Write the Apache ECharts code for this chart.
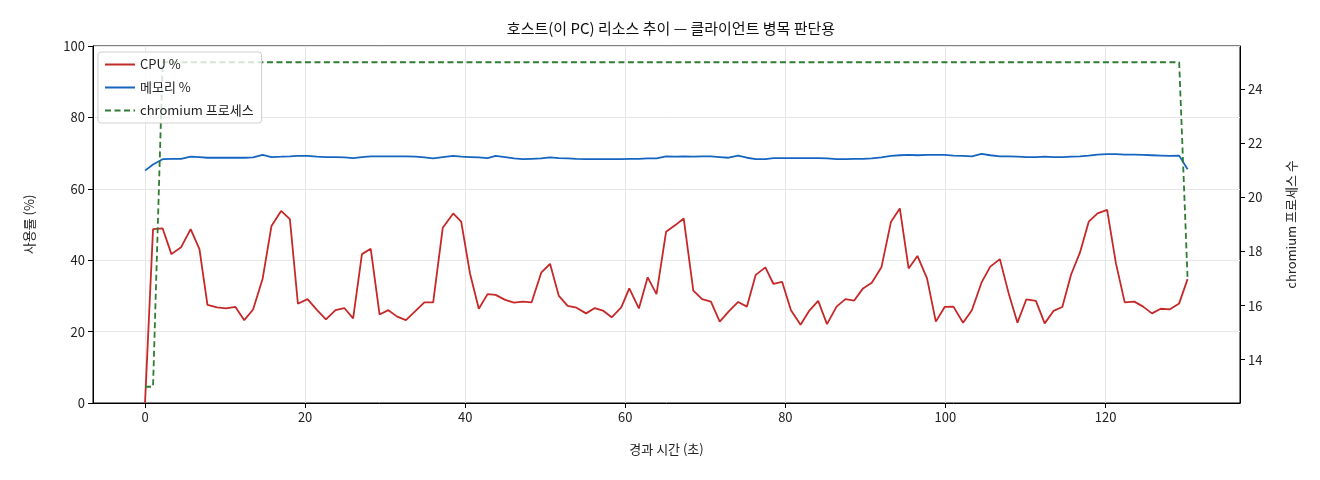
<!DOCTYPE html>
<html>
<head>
<meta charset="UTF-8">
<title>호스트 리소스 추이</title>
<script src="https://cdn.jsdelivr.net/npm/echarts@6/dist/echarts.min.js"></script>
<style>
	html, body { margin: 0; padding: 0; background: #fff; }
	#main { width: 1320px; height: 480px; }
</style>
</head>
<body>
<div id="main"></div>
<script>
// 경과 시간 (초)
var times = [0, 1.0, 2.2, 3.3, 4.5, 5.7, 6.8, 7.8, 9.0, 10.1, 11.3, 12.4, 13.5, 14.7, 15.8, 17.0, 18.1, 19.1, 20.3, 21.5,
	22.6, 23.8, 24.9, 26.0, 27.1, 28.2, 29.3, 30.4, 31.5, 32.6, 33.8, 34.9, 36.0, 37.2, 38.5, 39.5, 40.6, 41.7, 42.8, 43.8,
	45.0, 46.1, 47.2, 48.3, 49.5, 50.6, 51.7, 52.8, 53.9, 55.1, 56.2, 57.2, 58.3, 59.5, 60.5, 61.7, 62.8, 63.9, 65.1, 66.3,
	67.3, 68.5, 69.6, 70.7, 71.8, 72.9, 74.1, 75.2, 76.3, 77.5, 78.5, 79.6, 80.7, 81.9, 83.0, 84.1, 85.2, 86.4, 87.5, 88.6,
	89.7, 90.8, 92.0, 93.2, 94.3, 95.4, 96.5, 97.7, 98.8, 99.9, 101.0, 102.2, 103.3, 104.5, 105.6, 106.8, 107.9, 109.0, 110.1, 111.3,
	112.4, 113.5, 114.6, 115.7, 116.8, 117.9, 119.0, 120.2, 121.3, 122.4, 123.6, 124.7, 125.8, 126.9, 128.0, 129.2, 130.25];

var cpu = [0, 48.7, 48.9, 41.7, 43.6, 48.7, 43.1, 27.5, 26.8, 26.5, 26.9, 23.2, 26.2, 34.9, 49.6, 53.8, 51.5, 27.8, 29.1, 26.0,
	23.4, 26.0, 26.6, 23.7, 41.7, 43.2, 24.8, 26.0, 24.2, 23.2, 25.8, 28.2, 28.2, 49.1, 53.1, 50.8, 36.3, 26.4, 30.5, 30.3,
	28.9, 28.1, 28.4, 28.2, 36.5, 39.0, 30.0, 27.2, 26.7, 25.1, 26.6, 25.9, 24.0, 26.8, 32.1, 26.5, 35.2, 30.5, 48.0, 49.9,
	51.7, 31.5, 29.1, 28.4, 22.8, 25.6, 28.3, 27.0, 35.9, 38.0, 33.4, 33.9, 26.0, 21.9, 25.9, 28.6, 22.1, 27.0, 29.1, 28.7,
	32.1, 33.7, 38.0, 50.8, 54.5, 37.7, 41.2, 34.9, 22.8, 26.9, 27.0, 22.5, 26.0, 33.7, 38.2, 40.3, 30.7, 22.5, 29.0, 28.6,
	22.3, 25.8, 26.9, 36.0, 42.1, 50.8, 53.1, 54.1, 39.1, 28.2, 28.4, 27.0, 25.1, 26.4, 26.2, 27.9, 34.7];

var mem = [65.1, 66.8, 68.3, 68.4, 68.4, 69.0, 68.9, 68.7, 68.7, 68.7, 68.7, 68.7, 68.8, 69.5, 68.9, 69.0, 69.1, 69.2, 69.2, 69.0,
	68.9, 68.9, 68.8, 68.6, 68.9, 69.1, 69.1, 69.1, 69.1, 69.1, 69.0, 68.8, 68.5, 68.9, 69.2, 69.0, 68.9, 68.8, 68.6, 69.2,
	68.9, 68.5, 68.3, 68.4, 68.5, 68.8, 68.6, 68.5, 68.4, 68.3, 68.3, 68.3, 68.3, 68.3, 68.4, 68.4, 68.5, 68.5, 69.1, 69.0,
	69.1, 69.0, 69.1, 69.1, 68.9, 68.7, 69.3, 68.7, 68.3, 68.3, 68.6, 68.6, 68.6, 68.6, 68.6, 68.6, 68.5, 68.3, 68.3, 68.4,
	68.4, 68.5, 68.8, 69.2, 69.4, 69.5, 69.4, 69.5, 69.5, 69.5, 69.3, 69.2, 69.1, 69.8, 69.4, 69.1, 69.1, 69.0, 68.9, 68.9,
	69.0, 68.9, 68.9, 69.0, 69.1, 69.3, 69.6, 69.7, 69.7, 69.6, 69.6, 69.5, 69.4, 69.3, 69.2, 69.3, 65.5];

// chromium 프로세스 수
var procs = [13, 13, 25, 25, 25, 25, 25, 25, 25, 25, 25, 25, 25, 25, 25, 25, 25, 25, 25, 25,
	25, 25, 25, 25, 25, 25, 25, 25, 25, 25, 25, 25, 25, 25, 25, 25, 25, 25, 25, 25,
	25, 25, 25, 25, 25, 25, 25, 25, 25, 25, 25, 25, 25, 25, 25, 25, 25, 25, 25, 25,
	25, 25, 25, 25, 25, 25, 25, 25, 25, 25, 25, 25, 25, 25, 25, 25, 25, 25, 25, 25,
	25, 25, 25, 25, 25, 25, 25, 25, 25, 25, 25, 25, 25, 25, 25, 25, 25, 25, 25, 25,
	25, 25, 25, 25, 25, 25, 25, 25, 25, 25, 25, 25, 25, 25, 25, 25, 17];

var xTicks = [0, 20, 40, 60, 80, 100, 120];
var rightTicks = [14, 16, 18, 20, 22, 24];

function pairs(vals) {
	return vals.map(function (v, i) { return [times[i], v]; });
}

var FONT = '"Noto Sans CJK KR", "Noto Sans", sans-serif';
var TXT = '#222';

var chart = echarts.init(document.getElementById('main'), null, { renderer: 'canvas' });

var option = {
	animation: false,
	backgroundColor: '#fff',
	textStyle: { fontFamily: FONT },
	title: {
		text: '호스트(이 PC) 리소스 추이 — 클라이언트 병목 판단용',
		left: 666, top: 16, textAlign: 'center',
		textStyle: { fontFamily: FONT, fontSize: 15, fontWeight: 'normal', color: '#111' }
	},
	grid: {
		left: 93, right: 80, top: 46, bottom: 77,
		show: true, borderColor: '#000', borderWidth: 1, backgroundColor: 'transparent'
	},
	legend: {
		left: 98, top: 52, orient: 'vertical',
		itemWidth: 30, itemHeight: 12, itemGap: 10,
		padding: [6, 8, 6, 6],
		backgroundColor: 'rgba(255,255,255,0.8)',
		borderColor: '#d0d0d0', borderWidth: 1, borderRadius: 3,
		itemStyle: { opacity: 0 },
		textStyle: { fontFamily: FONT, fontSize: 13, color: TXT },
		data: ['CPU %', '메모리 %', 'chromium 프로세스']
	},
	xAxis: {
		type: 'value', min: -6.5, max: 136.8,
		name: '경과 시간 (초)', nameLocation: 'middle', nameGap: 40,
		nameTextStyle: { fontFamily: FONT, fontSize: 13, color: TXT },
		axisLine: { show: true, onZero: false, lineStyle: { color: '#000' } },
		axisTick: { show: true, length: 5, inside: false, customValues: xTicks, lineStyle: { color: '#000' } },
		axisLabel: { customValues: xTicks, fontSize: 13, color: TXT, margin: 8, fontFamily: FONT },
		splitLine: { show: true, lineStyle: { color: '#e6e6e6', width: 1 } }
	},
	yAxis: [{
		type: 'value', min: 0, max: 100, interval: 20,
		name: '사용률 (%)', nameLocation: 'middle', nameGap: 57, nameRotate: 90,
		nameTextStyle: { fontFamily: FONT, fontSize: 13, color: TXT },
		axisLine: { show: true, onZero: false, lineStyle: { color: '#000' } },
		axisTick: { show: true, length: 5, lineStyle: { color: '#000' } },
		axisLabel: { fontSize: 13, color: TXT, margin: 8, fontFamily: FONT },
		splitLine: { show: true, lineStyle: { color: '#e6e6e6', width: 1 } }
	}, {
		type: 'value', min: 12.4, max: 25.6, position: 'right',
		name: 'chromium 프로세스 수', nameLocation: 'middle', nameGap: 45, nameRotate: 90,
		nameTextStyle: { fontFamily: FONT, fontSize: 13, color: TXT },
		axisLine: { show: true, onZero: false, lineStyle: { color: '#000' } },
		axisTick: { show: true, length: 5, customValues: rightTicks, lineStyle: { color: '#000' } },
		axisLabel: { customValues: rightTicks, fontSize: 13, color: TXT, margin: 8, fontFamily: FONT },
		splitLine: { show: false }
	}],
	series: [{
		name: 'CPU %', type: 'line', yAxisIndex: 0,
		data: pairs(cpu), showSymbol: false, symbol: 'none',
		itemStyle: { color: '#c62828' },
		lineStyle: { color: '#c62828', width: 1.8 }, z: 3
	}, {
		name: '메모리 %', type: 'line', yAxisIndex: 0,
		data: pairs(mem), showSymbol: false, symbol: 'none',
		itemStyle: { color: '#1565c0' },
		lineStyle: { color: '#1565c0', width: 1.8 }, z: 3
	}, {
		name: 'chromium 프로세스', type: 'line', yAxisIndex: 1,
		data: pairs(procs), showSymbol: false, symbol: 'none',
		itemStyle: { color: '#2e7d32' },
		lineStyle: { color: '#2e7d32', width: 1.8, type: [6, 3.5] }, z: 3
	}]
};

chart.setOption(option);
window.onresize = chart.resize;
</script>
</body>
</html>
